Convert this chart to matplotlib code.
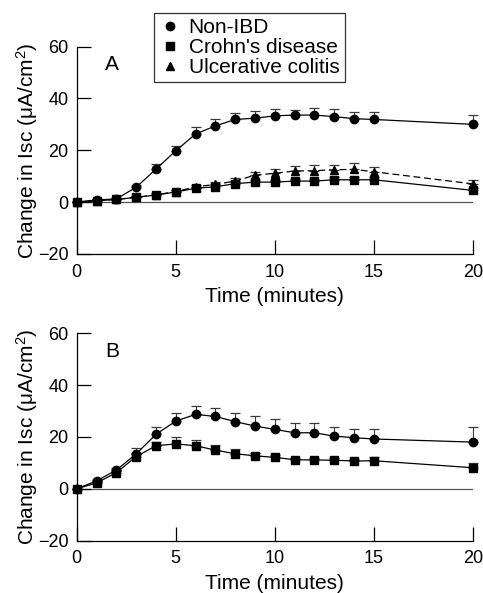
import numpy as np
import matplotlib
matplotlib.use("Agg")
import matplotlib.pyplot as plt

plt.rcParams['font.family'] = ['Liberation Sans', 'DejaVu Sans']
plt.rcParams['mathtext.fontset'] = 'custom'
plt.rcParams['mathtext.rm'] = 'Liberation Sans'
plt.rcParams['mathtext.it'] = 'Liberation Sans:italic'
plt.rcParams['font.size'] = 13

time = [0, 1, 2, 3, 4, 5, 6, 7, 8, 9, 10, 11, 12, 13, 14, 15, 20]

# Panel A
a_nonibd = [0, 0.8, 1.2, 5.7, 12.7, 19.8, 26.3, 29.4, 31.9, 32.4, 33.3, 33.6, 33.6, 33.0, 32.2, 31.9, 30.0]
a_nonibd_err = [0, 0.3, 0.4, 0.8, 2.0, 2.0, 2.7, 2.5, 2.6, 2.7, 2.7, 1.9, 2.8, 2.8, 2.7, 3.0, 3.7]
a_crohn = [0, 0.5, 1.0, 1.8, 2.7, 3.9, 5.3, 5.9, 7.1, 7.7, 7.7, 8.1, 8.1, 8.6, 8.6, 8.6, 4.5]
a_crohn_err = [0, 0.2, 0.3, 0.4, 0.5, 0.6, 0.7, 0.7, 0.8, 0.8, 0.8, 0.8, 0.9, 0.9, 0.9, 0.9, 0.8]
a_uc = [0, 0.5, 1.0, 1.8, 2.8, 4.0, 5.9, 6.8, 8.1, 10.4, 11.1, 12.0, 12.1, 12.5, 12.6, 11.7, 7.0]
a_uc_err = [0, 0.2, 0.3, 0.4, 0.5, 0.6, 0.8, 1.0, 1.2, 1.2, 1.5, 1.8, 2.2, 2.0, 2.3, 2.0, 1.7]

# Panel B
b_nonibd = [0, 3.0, 7.2, 13.4, 21.0, 26.1, 28.7, 27.9, 25.9, 24.2, 22.9, 21.6, 21.6, 20.3, 19.7, 19.2, 18.0]
b_nonibd_err = [0, 0.5, 0.8, 2.2, 2.7, 3.3, 3.2, 3.3, 3.5, 4.0, 3.9, 3.9, 3.9, 3.6, 3.2, 4.0, 5.7]
b_crohn = [0, 2.2, 6.2, 12.4, 16.6, 17.3, 16.6, 14.9, 13.5, 12.7, 12.1, 11.2, 11.1, 11.0, 10.7, 10.8, 8.1]
b_crohn_err = [0, 0.3, 0.5, 1.5, 1.5, 2.8, 2.2, 2.1, 1.8, 1.2, 1.0, 0.8, 0.8, 0.8, 0.8, 1.6, 1.8]

labels = ["Non-IBD", "Crohn's disease", "Ulcerative colitis"]
xticks = [0, 5, 10, 15, 20]
yticks = [-20, 0, 20, 40, 60]

fig = plt.figure(figsize=(4.83, 5.93), dpi=100)
ax1 = fig.add_axes([0.1588, 0.572, 0.8205, 0.3492])
ax2 = fig.add_axes([0.1588, 0.0885, 0.8205, 0.3494])

ecol = '#3a3a3a'

def series(ax, y, err, marker, ms, ls, label):
    y = np.array(y)
    e = np.array(err)
    _, caps, bars = ax.errorbar(time, y, yerr=[np.zeros_like(e), e], fmt='none', ecolor=ecol,
                                elinewidth=0.8, capsize=3.6, capthick=0.9, zorder=2)
    for c in caps:
        c.set_clip_on(False)
    for b in bars:
        b.set_clip_on(False)
    ax.plot(time, y, color='black', linestyle=ls, linewidth=0.9, zorder=3, clip_on=False)
    h, = ax.plot(time, y, linestyle='none', marker=marker, markersize=ms,
                 color='black', zorder=4, label=label, clip_on=False)
    return h

def style(ax, letter):
    ax.set_xlim(0, 20)
    ax.set_ylim(-20, 60)
    ax.set_xticks(xticks)
    ax.set_yticks(yticks)
    ax.spines['top'].set_visible(False)
    ax.spines['right'].set_visible(False)
    ax.spines['left'].set_linewidth(0.9)
    ax.spines['bottom'].set_linewidth(0.9)
    ax.tick_params(direction='in', length=10, width=0.9, pad=6, labelsize=13)
    ax.tick_params(axis='x', pad=7)
    ax.axhline(0, color='#555555', linewidth=0.9, zorder=1)
    ax.set_xlabel('Time (minutes)', labelpad=5, fontsize=15)
    ax.set_ylabel(r'Change in Isc (μA/cm$^2$)', fontsize=15)
    ax.yaxis.set_label_coords(-0.092, 0.5)
    ax.text(1.8, 53, letter, fontsize=15, ha='center', va='center')

h1 = series(ax1, a_nonibd, a_nonibd_err, 'o', 6, '-', labels[0])
h2 = series(ax1, a_crohn, a_crohn_err, 's', 5.5, '-', labels[1])
h3 = series(ax1, a_uc, a_uc_err, '^', 6, (0, (5.5, 3)), labels[2])
style(ax1, 'A')

series(ax2, b_nonibd, b_nonibd_err, 'o', 6, '-', labels[0])
series(ax2, b_crohn, b_crohn_err, 's', 5.5, '-', labels[1])
style(ax2, 'B')

leg = fig.legend(handles=[h1, h2, h3], loc='upper left',
                 bbox_to_anchor=(154.3 / 483, 1 - 12.7 / 593),
                 frameon=True, fancybox=False, edgecolor='black',
                 handlelength=1.0, handletextpad=0.4, labelspacing=0.05,
                 borderpad=0.25, borderaxespad=0, fontsize=15)
leg.get_frame().set_linewidth(0.9)

fig.savefig('out.png', dpi=100)
